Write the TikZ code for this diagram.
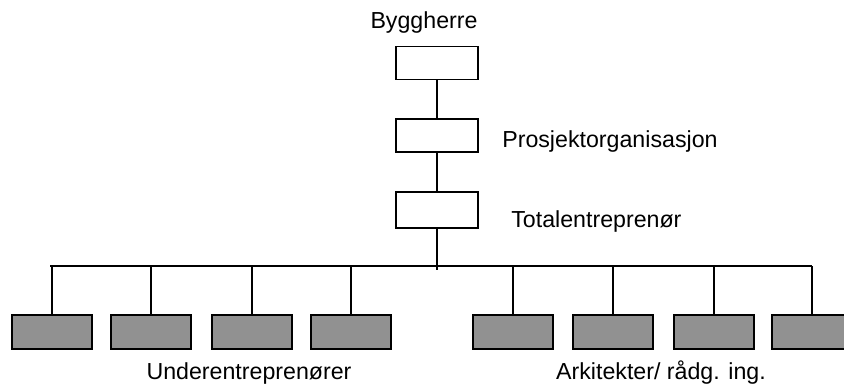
\documentclass[tikz,border=0pt]{standalone}
\usepackage{fontspec}
\setmainfont{Liberation Sans}
\usepackage{tikz}
\usetikzlibrary{positioning,calc}
\definecolor{graa}{RGB}{145,145,145}

\begin{document}
\begin{tikzpicture}[x=0.02cm, y=-0.02cm,
  boks/.style={draw=black, fill=#1, line width=1.1pt,
    minimum width=1.64cm, minimum height=0.66cm, inner sep=0pt},
  boks/.default=white,
  ue/.style={boks=graa, minimum width=1.6cm, minimum height=0.68cm},
  linje/.style={line width=1.3pt, draw=black},
  tekst/.style={font=\fontsize{13.2}{15}\selectfont, inner sep=0pt},
]
  \useasboundingbox (0,0) rectangle (844,387);
  \clip (0,0) rectangle (844,387);
  % ---- Hovedlinje (midten) ----
  \node[boks] (bh) at (437,63) {};
  \node[boks] (po) at (437,135.5) {};
  \node[boks, minimum height=0.72cm] (te) at (437,210) {};
  \node[tekst, anchor=base] at ([xshift=-0.26cm,yshift=0.34cm]bh.north)
    {Byggherre};
  \node[tekst, anchor=base west] at ([xshift=0.46cm,yshift=-0.23cm]po.east)
    {Prosjektorganisasjon};
  \node[tekst, anchor=base west] at ([xshift=0.64cm,yshift=-0.34cm]te.east)
    {Totalentreprenør};
  % ---- Underentreprenører (venstre) ----
  \node[ue] (u1) at (52,332) {};
  \node[ue] (u2) at (151,332) {};
  \node[ue] (u3) at (252,332) {};
  \node[ue] (u4) at (351,332) {};
  % ---- Arkitekter / rådgivende ingeniører (høyre) ----
  \node[ue] (a1) at (513,332) {};
  \node[ue] (a2) at (613,332) {};
  \node[ue] (a3) at (714,332) {};
  \node[ue] (a4) at (812,332) {};
  % ---- Linjer ----
  \coordinate (bv) at (50,266);
  \coordinate (bo) at (812,266);
  \draw[linje] (bh.south) -- (po.north);
  \draw[linje] (po.south) -- (te.north);
  \draw[linje] (te.south) -- ([yshift=-0.08cm]te.south |- bv);
  \draw[linje] (bv) -- (bo);
  \draw[linje] (u1.north) -- (u1.north |- bv);
  \draw[linje] (u2.north) -- (u2.north |- bv);
  \draw[linje] (u3.north) -- (u3.north |- bv);
  \draw[linje] (u4.north) -- (u4.north |- bv);
  \draw[linje] (a1.north) -- (a1.north |- bv);
  \draw[linje] (a2.north) -- (a2.north |- bv);
  \draw[linje] (a3.north) -- (a3.north |- bv);
  \draw[linje] (a4.north) -- (a4.north |- bv);
  % Gruppetekster under boksene
  \node[tekst, anchor=base] (ut) at (249,379) {Underentreprenører};
  \node[tekst, anchor=base] (at) at (661,379) {Arkitekter/ rådg. ing.};
\end{tikzpicture}
\end{document}
